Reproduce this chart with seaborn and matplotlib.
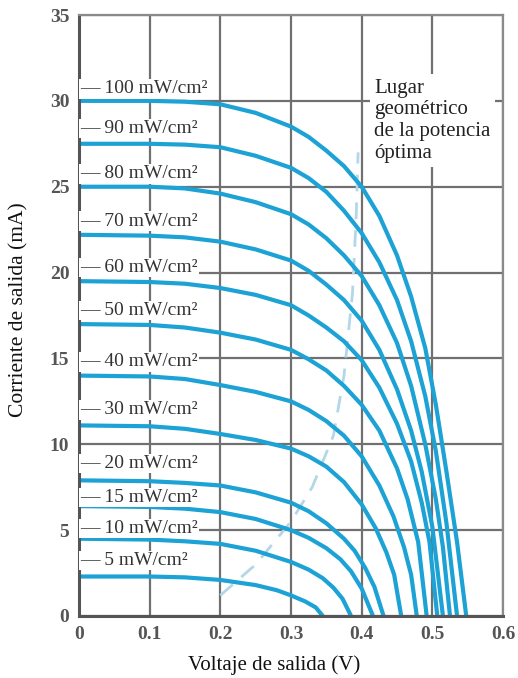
import matplotlib
matplotlib.use("Agg")
import matplotlib.pyplot as plt
import seaborn as sns
import pandas as pd
from matplotlib.ticker import MultipleLocator

# ---- data (voltage V, current mA) ----
levels = ["100", "90", "80", "70", "60", "50", "40", "30", "20", "15", "10", "5"]

V_100 = [0, 0.05, 0.1, 0.15, 0.2, 0.25, 0.3, 0.325, 0.35, 0.375, 0.4, 0.425, 0.45, 0.47, 0.49, 0.505, 0.52, 0.535, 0.548]
I_100 = [30, 30, 30, 29.95, 29.8, 29.3, 28.5, 27.9, 27.1, 26.2, 25.0, 23.3, 21.0, 18.6, 15.6, 12.3, 8.4, 4.3, 0]

V_90 = [0, 0.1, 0.15, 0.2, 0.25, 0.3, 0.325, 0.35, 0.375, 0.4, 0.425, 0.45, 0.47, 0.49, 0.505, 0.52, 0.535]
I_90 = [27.5, 27.5, 27.45, 27.3, 26.8, 26.1, 25.5, 24.7, 23.6, 22.3, 20.6, 18.4, 16.0, 12.8, 9.6, 5.4, 0]

V_80 = [0, 0.1, 0.15, 0.2, 0.25, 0.3, 0.325, 0.35, 0.375, 0.4, 0.425, 0.45, 0.47, 0.49, 0.505, 0.515, 0.525]
I_80 = [25, 25, 24.9, 24.6, 24.1, 23.4, 22.8, 22.0, 21.0, 19.8, 18.1, 15.9, 13.4, 10.0, 6.8, 4.0, 0]

V_70 = [0, 0.1, 0.15, 0.2, 0.25, 0.3, 0.325, 0.35, 0.375, 0.4, 0.425, 0.45, 0.47, 0.485, 0.5, 0.515]
I_70 = [22.2, 22.15, 22.05, 21.8, 21.35, 20.7, 20.1, 19.3, 18.4, 17.2, 15.5, 13.2, 10.8, 8.4, 5.2, 0]

V_60 = [0, 0.1, 0.15, 0.2, 0.25, 0.3, 0.325, 0.35, 0.375, 0.4, 0.425, 0.45, 0.47, 0.485, 0.496, 0.507]
I_60 = [19.5, 19.45, 19.35, 19.1, 18.7, 18.1, 17.5, 16.8, 16.0, 14.9, 13.3, 11.2, 9.0, 6.6, 4.3, 0]

V_50 = [0, 0.1, 0.15, 0.2, 0.25, 0.3, 0.325, 0.35, 0.375, 0.4, 0.425, 0.45, 0.465, 0.48, 0.492]
I_50 = [17, 16.95, 16.8, 16.5, 16.1, 15.5, 14.95, 14.3, 13.4, 12.3, 10.8, 8.6, 6.8, 4.3, 0]

V_40 = [0, 0.1, 0.15, 0.2, 0.25, 0.3, 0.325, 0.35, 0.375, 0.4, 0.425, 0.445, 0.46, 0.47, 0.478]
I_40 = [14, 13.95, 13.8, 13.45, 13.05, 12.5, 12.0, 11.35, 10.5, 9.3, 7.6, 5.8, 4.0, 2.4, 0]

V_30 = [0, 0.1, 0.15, 0.2, 0.25, 0.3, 0.325, 0.35, 0.375, 0.4, 0.42, 0.435, 0.446, 0.456]
I_30 = [11.1, 11.05, 10.9, 10.6, 10.25, 9.75, 9.3, 8.7, 7.8, 6.5, 5.1, 3.7, 2.4, 0]

V_20 = [0, 0.1, 0.15, 0.2, 0.25, 0.3, 0.325, 0.35, 0.375, 0.39, 0.405, 0.418, 0.431]
I_20 = [7.9, 7.85, 7.75, 7.6, 7.2, 6.6, 6.1, 5.4, 4.5, 3.8, 2.8, 1.7, 0]

V_15 = [0, 0.1, 0.15, 0.2, 0.25, 0.3, 0.325, 0.35, 0.37, 0.385, 0.4, 0.416]
I_15 = [6.4, 6.35, 6.25, 6.05, 5.65, 5.0, 4.55, 3.95, 3.3, 2.6, 1.6, 0]

V_10 = [0, 0.1, 0.15, 0.2, 0.25, 0.3, 0.325, 0.345, 0.36, 0.373, 0.385]
I_10 = [4.5, 4.45, 4.35, 4.2, 3.8, 3.15, 2.7, 2.2, 1.65, 1.0, 0]

V_5 = [0, 0.1, 0.15, 0.2, 0.25, 0.28, 0.3, 0.32, 0.335, 0.345]
I_5 = [2.3, 2.3, 2.25, 2.1, 1.8, 1.5, 1.2, 0.85, 0.5, 0]

# optimum-power locus (dashed)
V_opt = [0.2, 0.25, 0.3, 0.33, 0.35, 0.36, 0.375, 0.387, 0.392, 0.395]
I_opt = [1.2, 3.0, 5.5, 7.5, 9.5, 10.5, 14.0, 18.8, 23.0, 27.0]

# label positions (current, mA)
label_y = [30.7, 28.4, 25.75, 23.0, 20.3, 17.8, 14.8, 12.0, 8.9, 6.9, 5.1, 3.25]

x_ticks = [0, 0.1, 0.2, 0.3, 0.4, 0.5, 0.6]
x_ticklabels = ["0", "0.1", "0.2", "0.3", "0.4", "0.5", "0.6"]
y_ticks = [0, 5, 10, 15, 20, 25, 30, 35]

curves = {
    "100": (V_100, I_100), "90": (V_90, I_90), "80": (V_80, I_80),
    "70": (V_70, I_70), "60": (V_60, I_60), "50": (V_50, I_50),
    "40": (V_40, I_40), "30": (V_30, I_30), "20": (V_20, I_20),
    "15": (V_15, I_15), "10": (V_10, I_10), "5": (V_5, I_5),
}

rows = []
for lvl in levels:
    vs, cs = curves[lvl]
    for v, c in zip(vs, cs):
        rows.append({"curve": lvl, "V": v, "I": c})
df = pd.DataFrame(rows)
df_opt = pd.DataFrame({"V": V_opt, "I": I_opt})

sns.set_theme(style="white")
plt.rcParams["font.family"] = ["Liberation Serif", "DejaVu Serif"]

fig = plt.figure(figsize=(5.18, 6.78), dpi=100)
ax = fig.add_axes([79 / 518, 1 - 616 / 678, (503 - 79) / 518, (616 - 15) / 678])

blue = "#1ca2d4"
sns.lineplot(data=df_opt, x="V", y="I", ax=ax, color="#b3d7e7", lw=2.0,
             linestyle=(0, (6, 4)), zorder=1.8)
sns.lineplot(data=df, x="V", y="I", units="curve", estimator=None, sort=False,
             ax=ax, color=blue, lw=3.0, zorder=2)

ax.set_xlim(0, 0.6)
ax.set_ylim(0, 35)
ax.set_xticks(x_ticks)
ax.set_yticks(y_ticks)
ax.set_xticklabels(x_ticklabels)
ax.set_yticklabels([str(t) for t in y_ticks])
ax.yaxis.set_minor_locator(MultipleLocator(1))

ax.grid(True, which="major", color="#707070", lw=1.6)
ax.set_axisbelow(True)
for s in ax.spines.values():
    s.set_color("#8a8a8a")
    s.set_linewidth(1.6)
ax.spines["left"].set_color("#555555")
ax.spines["left"].set_linewidth(2.2)
ax.spines["bottom"].set_color("#555555")
ax.spines["bottom"].set_linewidth(2.2)

ax.tick_params(axis="both", which="major", length=0, labelsize=14,
               labelcolor="#555555", pad=7)
ax.tick_params(axis="y", which="minor", direction="in", length=11,
               width=1.6, color="#666666")
for lab in ax.get_xticklabels() + ax.get_yticklabels():
    lab.set_fontweight("bold")

ax.set_xlabel("Voltaje de salida (V)", fontsize=15, color="#111111")
ax.set_ylabel("Corriente de salida (mA)", fontsize=15.5, color="#111111")
ax.xaxis.set_label_coords(0.46, -0.065)
ax.yaxis.set_label_coords(-0.118, 0.51)

for lvl, ly in zip(levels, label_y):
    ax.text(0.002, ly, "\u2014 " + lvl + " mW/cm\u00b2", fontsize=14,
            color="#333333", va="center", ha="left", zorder=3,
            bbox=dict(facecolor="white", edgecolor="none", pad=0.8))

ax.text(0.418, 31.3, "Lugar\ngeométrico\nde la potencia\nóptima", fontsize=15,
        color="#222222", va="top", ha="left", linespacing=1.2, zorder=3,
        bbox=dict(facecolor="white", edgecolor="none", pad=3.0))

fig.savefig("out.png", dpi=100)
